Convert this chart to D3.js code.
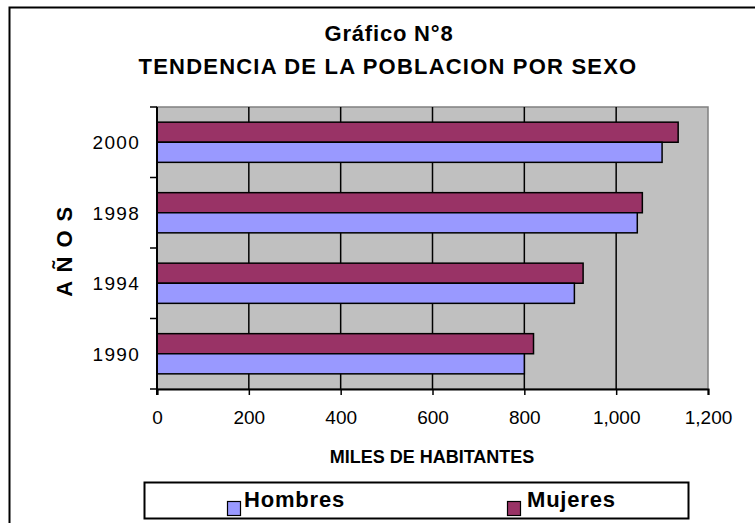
<!DOCTYPE html>
<html>
<head>
<meta charset="utf-8">
<script src="https://cdn.jsdelivr.net/npm/d3@7"></script>
<style>
  body { margin: 0; background: #fff; }
  text { font-family: "Liberation Sans", Arial, sans-serif; fill: #000; }
</style>
</head>
<body>
<svg id="chart" width="755" height="523"></svg>
<script>
// data
var years = ["2000", "1998", "1994", "1990"];
var series = ["Mujeres", "Hombres"];
var hombres = [1100, 1046, 909, 800];
var mujeres = [1135, 1057, 928, 820];
var xTicks = [0, 200, 400, 600, 800, 1000, 1200];
var colors = { Hombres: "#9999ff", Mujeres: "#993366" };

var svg = d3.select("#chart");

// outer frame of the chart
svg.append("rect")
  .attr("x", 9.5).attr("y", 7.5)
  .attr("width", 800).attr("height", 600)
  .attr("fill", "#fff").attr("stroke", "#000").attr("stroke-width", 2);

// titles
svg.append("text").attr("x", 389).attr("y", 41)
  .attr("text-anchor", "middle")
  .style("font-size", "22px").style("font-weight", "bold").style("letter-spacing", "0.8px")
  .text("Gráfico N°8");
svg.append("text").attr("x", 388).attr("y", 74)
  .attr("text-anchor", "middle")
  .style("font-size", "22px").style("font-weight", "bold").style("letter-spacing", "1.2px")
  .text("TENDENCIA DE LA POBLACION POR SEXO");

var plotLeft = 157, plotRight = 708, plotTop = 107, plotBottom = 389;

var x = d3.scaleLinear().domain([0, 1200]).range([plotLeft, plotRight]);
var y = d3.scaleBand().domain(years).range([plotTop, plotBottom]).paddingInner(0.43).paddingOuter(0.215);
var ySub = d3.scaleBand().domain(series).range([0, y.bandwidth()]);

// plot area
svg.append("rect")
  .attr("x", plotLeft).attr("y", plotTop)
  .attr("width", plotRight - plotLeft).attr("height", plotBottom - plotTop)
  .attr("fill", "#c0c0c0").attr("stroke", "#808080").attr("stroke-width", 1.5);

// vertical gridlines
svg.append("g").selectAll("line")
  .data(xTicks.slice(1, -1))
  .enter().append("line")
  .attr("x1", function(d) { return x(d); })
  .attr("x2", function(d) { return x(d); })
  .attr("y1", plotTop).attr("y2", plotBottom)
  .attr("stroke", "#000").attr("stroke-width", 1.5);

// bars
var rows = years.map(function(yr, i) {
  return { year: yr, values: [
    { key: "Mujeres", value: mujeres[i] },
    { key: "Hombres", value: hombres[i] }
  ] };
});

svg.append("g").selectAll("g")
  .data(rows)
  .enter().append("g")
  .attr("transform", function(d) { return "translate(0," + y(d.year) + ")"; })
  .selectAll("rect")
  .data(function(d) { return d.values; })
  .enter().append("rect")
  .attr("x", x(0))
  .attr("y", function(d) { return ySub(d.key); })
  .attr("width", function(d) { return x(d.value) - x(0); })
  .attr("height", ySub.bandwidth())
  .attr("fill", function(d) { return colors[d.key]; })
  .attr("stroke", "#000").attr("stroke-width", 1.5);

// x axis
var xAxis = svg.append("g")
  .attr("transform", "translate(0," + plotBottom + ")")
  .call(d3.axisBottom(x).tickValues(xTicks).tickSize(6).tickPadding(16).tickFormat(d3.format(",")));
xAxis.select(".domain").attr("stroke", "#000").attr("stroke-width", 2);
xAxis.selectAll(".tick line").attr("stroke", "#000").attr("stroke-width", 1.5);
xAxis.selectAll("text").style("font-size", "19px").style("font-family", "Liberation Sans, Arial, sans-serif");

// y axis: labels at band centres, ticks at band boundaries
var step = y.step();
var bounds = years.map(function(yr) { return y(yr) - step * y.paddingInner() / 2; });
bounds.push(plotBottom);

var yAxis = svg.append("g").attr("transform", "translate(" + plotLeft + ",0)");
yAxis.append("line")
  .attr("x1", 0).attr("x2", 0).attr("y1", plotTop).attr("y2", plotBottom + 6)
  .attr("stroke", "#000").attr("stroke-width", 2);
yAxis.selectAll("line.tk")
  .data(bounds)
  .enter().append("line").attr("class", "tk")
  .attr("x1", -7).attr("x2", 0)
  .attr("y1", function(d) { return d; }).attr("y2", function(d) { return d; })
  .attr("stroke", "#000").attr("stroke-width", 1.5);
yAxis.selectAll("text")
  .data(years)
  .enter().append("text")
  .attr("x", -17)
  .attr("y", function(d) { return y(d) + y.bandwidth() / 2; })
  .attr("dy", "0.36em")
  .attr("text-anchor", "end")
  .style("font-size", "19px").style("letter-spacing", "1.3px")
  .text(function(d) { return d; });

// axis titles
svg.append("text")
  .attr("transform", "translate(72,251) rotate(-90)")
  .attr("text-anchor", "middle")
  .style("font-size", "22px").style("font-weight", "bold").style("letter-spacing", "1.5px")
  .text("A Ñ O S");

svg.append("text").attr("x", 432).attr("y", 463)
  .attr("text-anchor", "middle")
  .style("font-size", "18px").style("font-weight", "bold")
  .text("MILES DE HABITANTES");

// legend
var legend = svg.append("g");
legend.append("rect")
  .attr("x", 144.5).attr("y", 482.5).attr("width", 544).attr("height", 36)
  .attr("fill", "#fff").attr("stroke", "#000").attr("stroke-width", 2);

var legendItems = [
  { key: "Hombres", sx: 227, tx: 244 },
  { key: "Mujeres", sx: 507, tx: 527 }
];
var li = legend.selectAll("g.item")
  .data(legendItems)
  .enter().append("g").attr("class", "item");
li.append("rect")
  .attr("x", function(d) { return d.sx + 0.5; }).attr("y", 501.5)
  .attr("width", 13).attr("height", 14)
  .attr("fill", function(d) { return colors[d.key]; })
  .attr("stroke", "#000").attr("stroke-width", 1.2);
li.append("text")
  .attr("x", function(d) { return d.tx; }).attr("y", 507)
  .style("font-size", "22px").style("font-weight", "bold").style("letter-spacing", "0.8px")
  .text(function(d) { return d.key; });
</script>
</body>
</html>
